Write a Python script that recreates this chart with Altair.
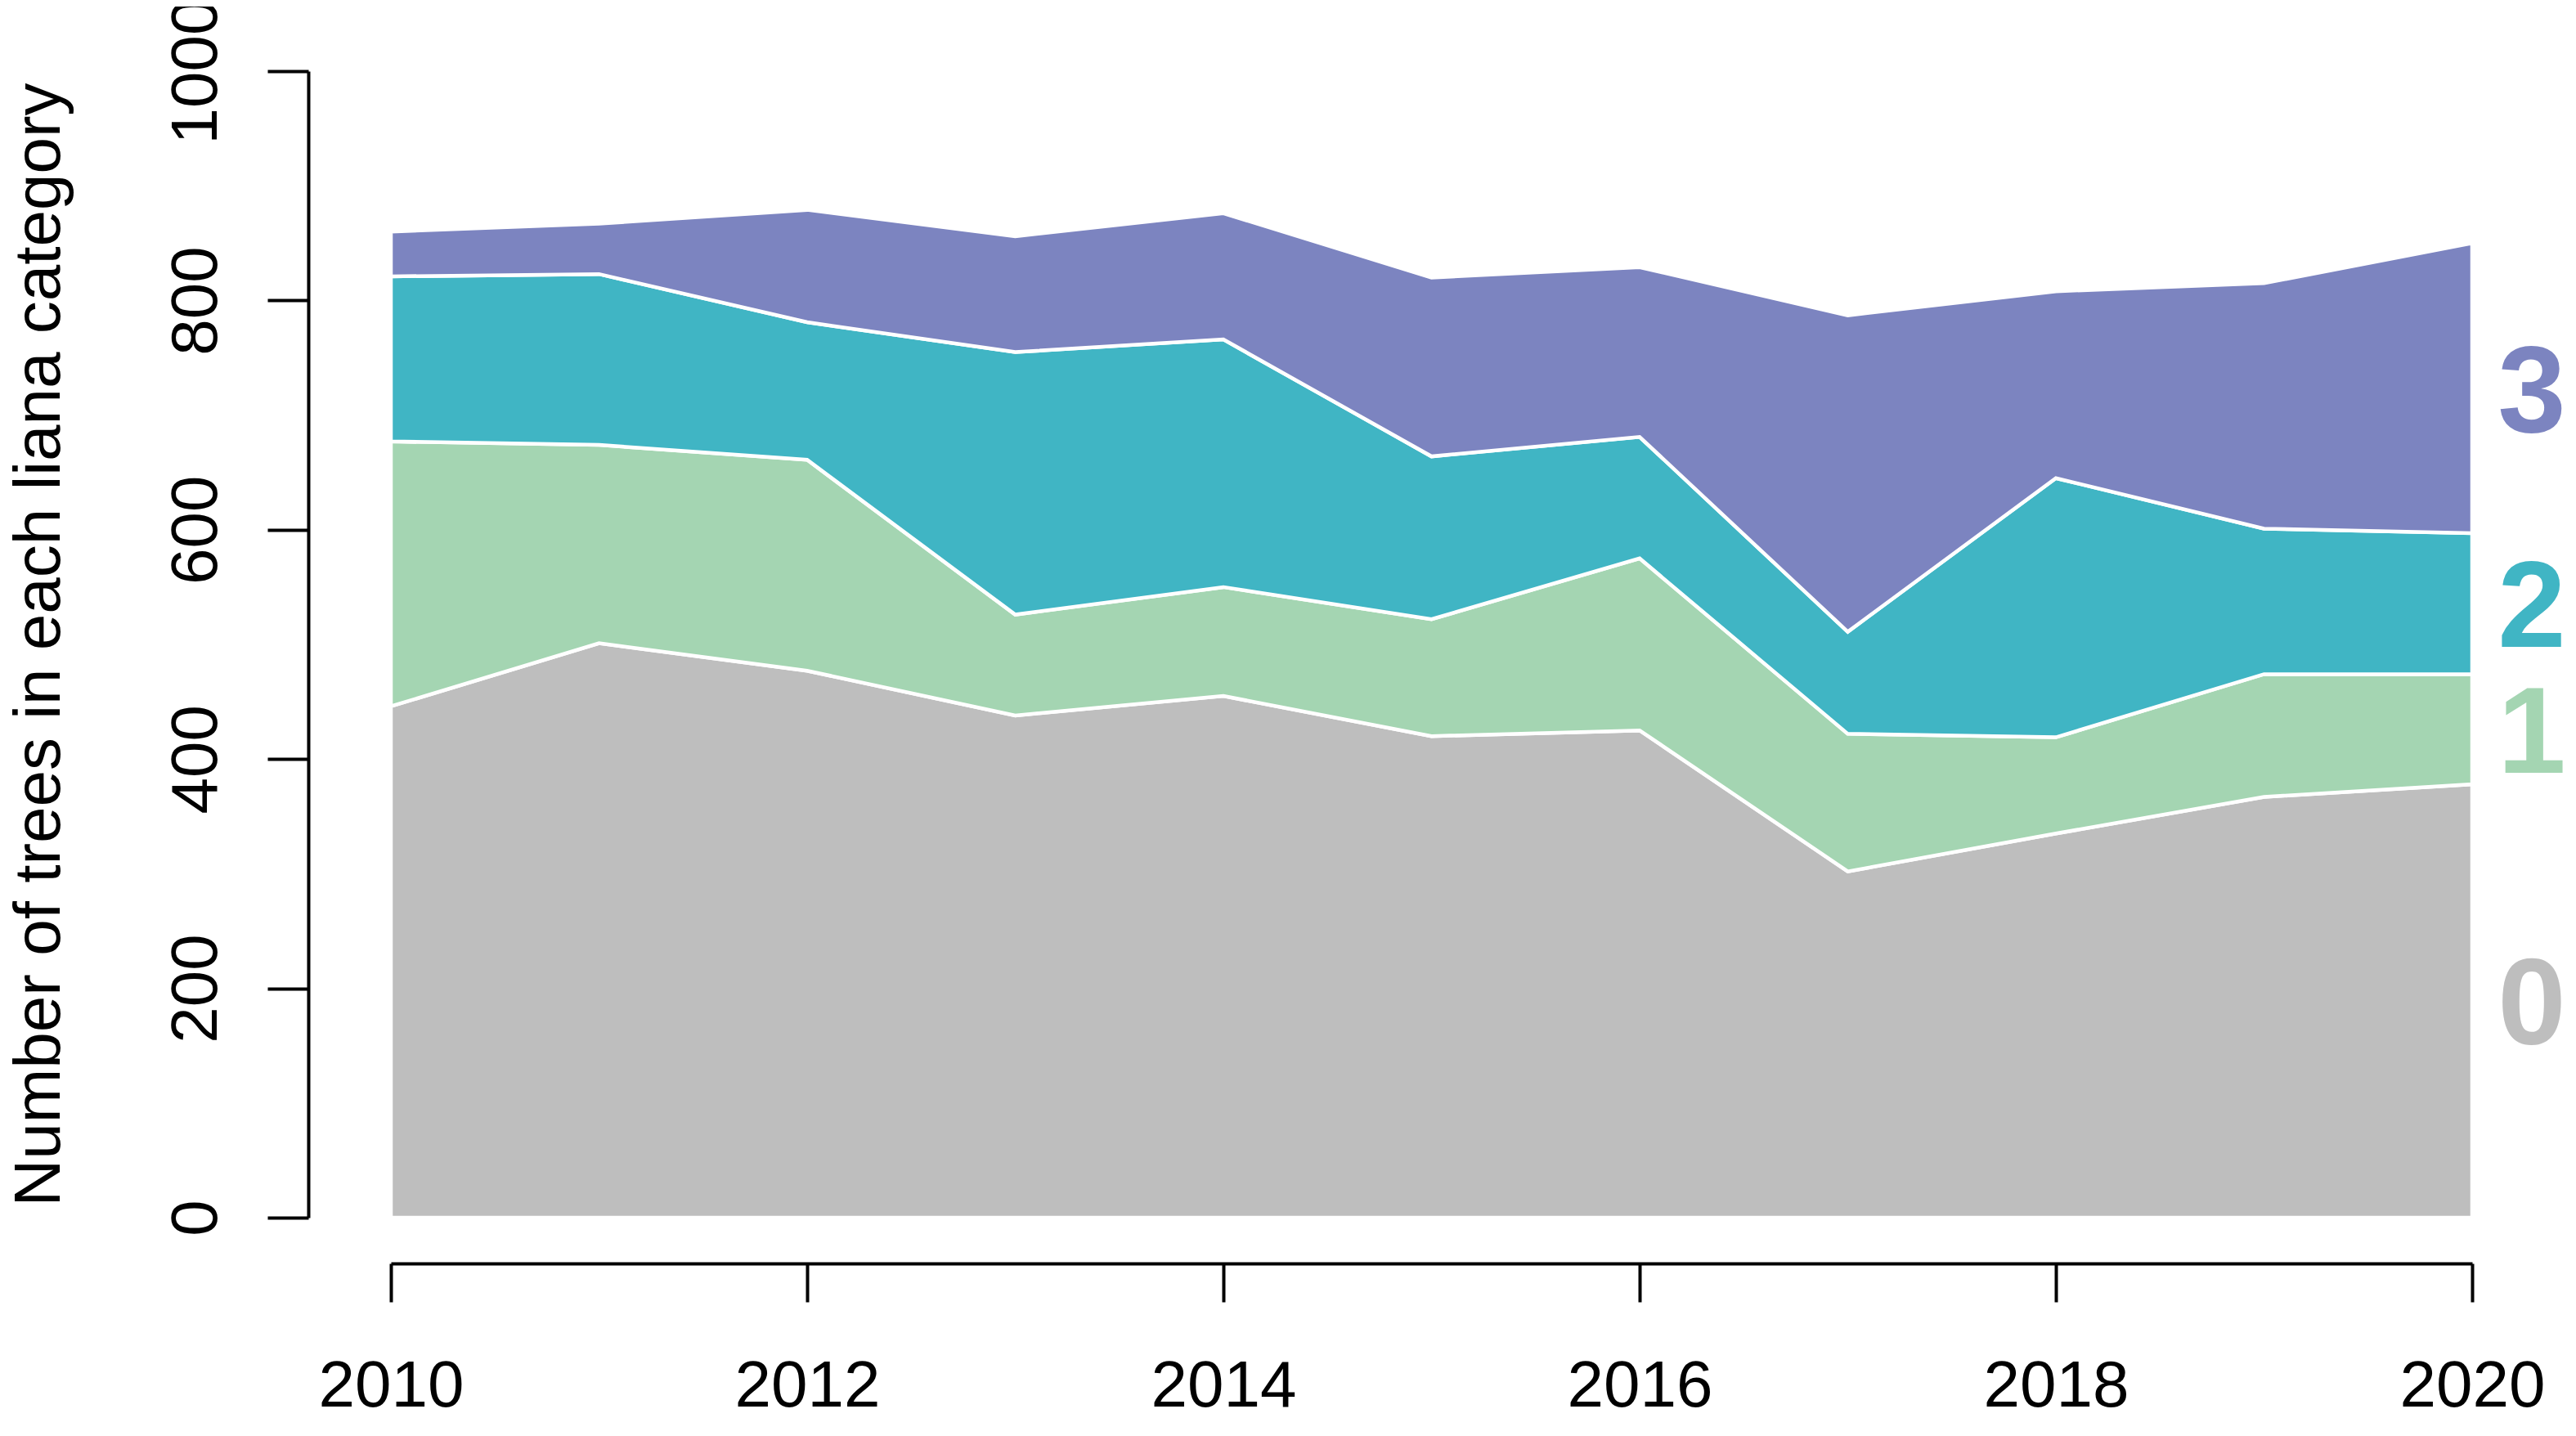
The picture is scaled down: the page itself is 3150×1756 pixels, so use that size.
import altair as alt
import pandas as pd

years = [2010, 2011, 2012, 2013, 2014, 2015, 2016, 2017, 2018, 2019, 2020]
cat0 = [446, 501, 477, 438, 455, 420, 425, 302, 335, 367, 378]
cat1 = [231, 173, 184, 88, 95, 102, 150, 120, 84, 107, 96]
cat2 = [144, 149, 120, 229, 216, 142, 106, 89, 226, 127, 123]
cat3 = [39, 44, 98, 101, 110, 156, 148, 276, 163, 214, 253]
categories = ["0", "1", "2", "3"]
colors = ["#BEBEBE", "#A4D5B2", "#40B5C4", "#7C84C0"]
x_ticks = [2010, 2012, 2014, 2016, 2018, 2020]
y_ticks = [0, 200, 400, 600, 800, 1000]

series = [cat0, cat1, cat2, cat3]
rows = []
for i, yr in enumerate(years):
    base = 0
    for c, vals in zip(categories, series):
        rows.append({"year": yr, "cat": c, "lower": base, "upper": base + vals[i]})
        base += vals[i]
df = pd.DataFrame(rows)

last = df[df["year"] == years[-1]].copy()
last["mid"] = (last["lower"] + last["upper"]) / 2

FONT = "Liberation Sans"
color_scale = alt.Scale(domain=categories, range=colors)

areas = alt.Chart(df).mark_area(stroke="white", strokeWidth=4.5).encode(
    x=alt.X("year:Q",
            scale=alt.Scale(domain=[2010, 2020], nice=False, zero=False),
            axis=alt.Axis(values=x_ticks, format="d", grid=False, title=None,
                          domainColor="black", domainWidth=4,
                          tickColor="black", tickWidth=4, tickSize=47,
                          labelFont=FONT, labelFontSize=80, labelColor="black",
                          labelPadding=127, labelBaseline="alphabetic",
                          labelFlush=False, labelOverlap=False, offset=56)),
    y=alt.Y("lower:Q",
            scale=alt.Scale(domain=[0, 1000], nice=False),
            axis=alt.Axis(values=y_ticks, format="d", grid=False,
                          title="Number of trees in each liana category",
                          titleFont=FONT, titleFontSize=80, titleFontWeight="normal",
                          titleColor="black", titleAngle=270,
                          titleX=-329, titleY=701, titleAlign="center",
                          titleBaseline="middle", titleLimit=2000,
                          domainColor="black", domainWidth=4,
                          tickColor="black", tickWidth=4, tickSize=50,
                          labelFont=FONT, labelFontSize=80, labelColor="black",
                          labelAngle=270, labelAlign="center",
                          labelBaseline="alphabetic", labelPadding=63,
                          labelLimit=1000,
                          labelFlush=False, labelOverlap=False, offset=101)),
    y2="upper:Q",
    color=alt.Color("cat:N", scale=color_scale, legend=None),
)

labels = alt.Chart(last).mark_text(
    font=FONT, fontSize=150, fontWeight="bold", dx=73, dy=8,
    align="center", baseline="middle"
).encode(
    x="year:Q",
    y="mid:Q",
    text="cat:N",
    color=alt.Color("cat:N", scale=color_scale, legend=None),
)

chart = alt.layer(areas, labels).properties(
    width=2545, height=1402,
    autosize=alt.AutoSizeParams(type="none"),
    padding={"left": 470, "top": 79, "right": 119, "bottom": 250},
    background="white",
).configure_view(stroke=None)

chart.save("out.html", embed_options={"renderer": "svg", "actions": False})
